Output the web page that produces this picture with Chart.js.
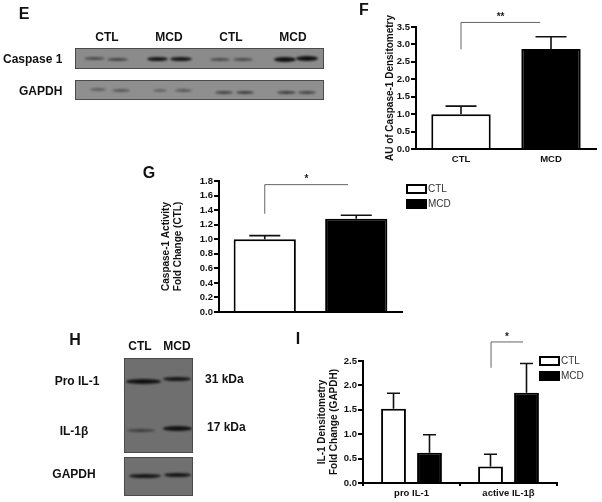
<!DOCTYPE html>
<html>
<head>
<meta charset="utf-8">
<script src="https://cdn.jsdelivr.net/npm/chart.js@4"></script>
<style>
  html, body { margin: 0; padding: 0; background: #fff; }
  #page { position: relative; width: 602px; height: 502px; overflow: hidden; filter: blur(0.55px); font-family: "Liberation Sans", Arial, sans-serif; }
  #page canvas { position: absolute; }
  .t { position: absolute; font-weight: bold; font-size: 12px; color: #111; transform: translate(-50%, -50%); white-space: nowrap; }
  .l { transform: translate(0, -50%); }
  .letter { font-size: 16px; }
  .blot { position: absolute; overflow: hidden; box-sizing: border-box; border: 1px solid #4a4a4a; }
  .band { position: absolute; border-radius: 50%; background: #111; filter: blur(1px); }
</style>
</head>
<body>
<div id="page"></div>
<script>
const page = document.getElementById("page");

// panel F
const fCategories = ["CTL", "MCD"];
const fValues = [1.0, 2.87];
const fErrors = [1.23, 3.22];
const fTicks = [0, 0.5, 1, 1.5, 2, 2.5, 3, 3.5];

// panel G
const gCategories = ["CTL", "MCD"];
const gValues = [1.0, 1.28];
const gErrors = [1.05, 1.33];

// panel I
const iCategories = ["pro IL-1", "active IL-1β"];
const iCtl = [1.52, 0.34];
const iMcd = [0.62, 1.85];
const iCtlErrors = [1.84, 0.59];
const iMcdErrors = [0.99, 2.45];

// labels, brackets
const legendNames = ["CTL", "MCD"];
const fBracket = { from: 0, to: 0.88, top: 3.63, leg: 2.86, star: "**" };
const gBracket = { from: 0, to: 0.91, top: 1.75, leg: 1.35, star: "*" };
const iBracket = { from: 0.82, to: 1.15, top: 2.89, leg: 2.36, star: "*" };

function addText(text, x, y, cls) {
  let d = document.createElement("div");
  d.className = "t " + (cls || "");
  d.textContent = text;
  d.style.left = x + "px";
  d.style.top = y + "px";
  page.appendChild(d);
}

// western blot strip, bands = [x, y, w, h, opacity] inside the strip
function addBlot(x, y, w, h, bg, bands) {
  let b = document.createElement("div");
  b.className = "blot";
  b.style.cssText = `left:${x}px;top:${y}px;width:${w}px;height:${h}px;background:${bg}`;
  bands.forEach(function (r) {
    let s = document.createElement("div");
    s.className = "band";
    s.style.cssText = `left:${r[0]}px;top:${r[1]}px;width:${r[2]}px;height:${r[3]}px;opacity:${r[4]}`;
    b.appendChild(s);
  });
  page.appendChild(b);
}

addText("E", 24, 14, "letter");
addText("F", 364, 10, "letter");
addText("G", 149, 173, "letter");
addText("H", 75, 340, "letter");
addText("I", 298, 339, "letter");

addText("CTL", 107, 37);
addText("MCD", 169, 37);
addText("CTL", 231, 37);
addText("MCD", 293, 37);
addText("Caspase 1", 3, 59, "l");
addText("GAPDH", 19, 91, "l");

addBlot(75, 48, 249, 21, "#8b8b8b", [
  [8, 8, 21, 3, .55], [31, 9, 21, 3, .6], [71, 8, 21, 4, .95], [94, 8, 22, 4, .95],
  [134, 9, 20, 3, .55], [157, 9, 20, 3, .55], [198, 8, 22, 5, 1], [220, 7, 22, 5, 1]
]);
addBlot(75, 80, 249, 20, "#8f8f8f", [
  [14, 7, 16, 3, .4], [36, 8, 18, 3, .45], [77, 8, 14, 3, .35], [99, 8, 17, 3, .45],
  [139, 10, 18, 3, .6], [160, 10, 18, 3, .65], [201, 10, 19, 3, .65], [222, 10, 18, 3, .6]
]);

addText("CTL", 140, 346);
addText("MCD", 177, 346);
addText("Pro IL-1", 77, 381);
addText("IL-1β", 74, 431);
addText("GAPDH", 74, 474);
addText("31 kDa", 205, 379, "l");
addText("17 kDa", 207, 427, "l");

addBlot(124, 358, 69, 95, "#6f6f6f", [
  [1, 20, 35, 5, 1], [38, 18, 28, 4, .95], [2, 70, 28, 3, .55], [38, 67, 29, 5, 1]
]);
addBlot(124, 457, 69, 39, "#707070", [
  [4, 16, 32, 4, .95], [39, 15, 27, 4, .95]
]);

// error bars, brackets, stars and legend on top of the bars
const panelMarks = {
  id: "panelMarks",
  afterDatasetsDraw(chart, args, opts) {
    const ctx = chart.ctx, xs = chart.scales.x, ys = chart.scales.y;
    ctx.save();
    ctx.strokeStyle = "#111";
    ctx.lineWidth = 1.6;
    chart.data.datasets.forEach(function (ds, d) {
      const meta = chart.getDatasetMeta(d);
      opts.errors[d].forEach(function (top, i) {
        const x = meta.data[i].x, y0 = ys.getPixelForValue(ds.data[i]), y1 = ys.getPixelForValue(top);
        ctx.beginPath();
        ctx.moveTo(x, y0);
        ctx.lineTo(x, y1);
        ctx.moveTo(x - opts.cap / 2, y1);
        ctx.lineTo(x + opts.cap / 2, y1);
        ctx.stroke();
      });
    });
    const b = opts.bracket;
    const xa = xs.getPixelForValue(b.from), xb = xs.getPixelForValue(b.to);
    const yTop = ys.getPixelForValue(b.top), yLeg = ys.getPixelForValue(b.leg);
    ctx.strokeStyle = "#666";
    ctx.lineWidth = 1;
    ctx.beginPath();
    ctx.moveTo(xa, yLeg);
    ctx.lineTo(xa, yTop);
    ctx.lineTo(xb, yTop);
    ctx.stroke();
    ctx.fillStyle = "#222";
    ctx.font = "bold 10px 'Liberation Sans'";
    ctx.textAlign = "center";
    ctx.textBaseline = "middle";
    ctx.fillText(b.star, (xa + xb) / 2, yTop - 5);
    if (opts.legend) {
      ctx.textAlign = "left";
      ctx.font = "10px 'Liberation Sans'";
      legendNames.forEach(function (name, i) {
        const y = opts.legend.y + i * opts.legend.gap;
        ctx.strokeStyle = "#000";
        ctx.lineWidth = 2;
        ctx.fillStyle = i === 0 ? "#fff" : "#000";
        ctx.fillRect(opts.legend.x, y, 19, 8);
        ctx.strokeRect(opts.legend.x, y, 19, 8);
        ctx.fillStyle = "#333";
        ctx.fillText(name, opts.legend.x + 21, y + 4.5);
      });
    }
    ctx.restore();
  }
};

function addChart(box, cfg) {
  let c = document.createElement("canvas");
  c.width = box.w;
  c.height = box.h;
  c.style.left = box.x + "px";
  c.style.top = box.y + "px";
  c.style.width = box.w + "px";
  c.style.height = box.h + "px";
  page.appendChild(c);
  const tickFont = { family: "Liberation Sans", size: 9.5, weight: "bold" };
  return new Chart(c.getContext("2d"), {
    type: "bar",
    data: { labels: cfg.labels, datasets: cfg.datasets },
    plugins: [panelMarks],
    options: {
      responsive: false,
      animation: false,
      layout: { padding: { top: box.top, right: box.right, left: 0, bottom: 0 } },
      plugins: {
        legend: { display: false },
        tooltip: { enabled: false },
        panelMarks: cfg.marks
      },
      scales: {
        x: {
          grid: { display: cfg.xTicks, drawOnChartArea: false, tickLength: 3, color: "#000", lineWidth: 2 },
          border: { color: "#000", width: 2 },
          ticks: { display: cfg.xLabels, color: "#111", font: tickFont, padding: 2, maxRotation: 0, autoSkip: false },
          afterFit(s) { s.height = box.xh; }
        },
        y: {
          min: 0,
          max: cfg.max,
          grid: { drawOnChartArea: false, tickLength: 5, color: "#000", lineWidth: 2 },
          border: { color: "#000", width: 2 },
          ticks: { stepSize: cfg.step, color: "#111", font: tickFont, padding: 1, autoSkip: false, callback: (v) => v.toFixed(1) },
          title: {
            display: true,
            text: cfg.title,
            color: "#111",
            font: { family: "Liberation Sans", size: 10, weight: "bold" },
            padding: 0
          },
          afterFit(s) { s.width = box.yw; }
        }
      }
    }
  });
}

function whiteBlack(values, cat, bar) {
  return {
    data: values,
    backgroundColor: ["#fff", "#000"],
    borderColor: "#000",
    borderWidth: 2,
    borderSkipped: "bottom",
    categoryPercentage: cat,
    barPercentage: bar
  };
}

addChart({ x: 384, y: 0, w: 218, h: 180, top: 27, right: 6, xh: 31, yw: 32 }, {
  labels: fCategories,
  datasets: [whiteBlack(fValues, 1, 0.66)],
  max: fTicks[fTicks.length - 1],
  step: 0.5,
  title: "AU of Caspase-1 Densitometry",
  xTicks: false,
  xLabels: true,
  marks: { errors: [fErrors], cap: 31, bracket: fBracket }
});

addChart({ x: 160, y: 160, w: 300, h: 160, top: 21, right: 58, xh: 8, yw: 59 }, {
  labels: gCategories,
  datasets: [whiteBlack(gValues, 1, 0.68)],
  max: 1.8,
  step: 0.2,
  title: ["Caspase-1 Activity", "Fold Change (CTL)"],
  xTicks: false,
  xLabels: false,
  marks: { errors: [gErrors], cap: 31, bracket: gBracket, legend: { x: 247, y: 25, gap: 15 } }
});

addChart({ x: 316, y: 330, w: 286, h: 172, top: 31, right: 45, xh: 19, yw: 47 }, {
  labels: iCategories,
  datasets: [
    { data: iCtl, backgroundColor: "#fff", borderColor: "#000", borderWidth: 2, borderSkipped: "bottom", categoryPercentage: 0.742, barPercentage: 0.69 },
    { data: iMcd, backgroundColor: "#000", borderColor: "#000", borderWidth: 2, borderSkipped: "bottom", categoryPercentage: 0.742, barPercentage: 0.69 }
  ],
  max: 2.5,
  step: 0.5,
  title: ["IL-1 Densitometry", "Fold Change (GAPDH)"],
  xTicks: true,
  xLabels: true,
  marks: { errors: [iCtlErrors, iMcdErrors], cap: 13, bracket: iBracket, legend: { x: 224, y: 27, gap: 15 } }
});
</script>
</body>
</html>
